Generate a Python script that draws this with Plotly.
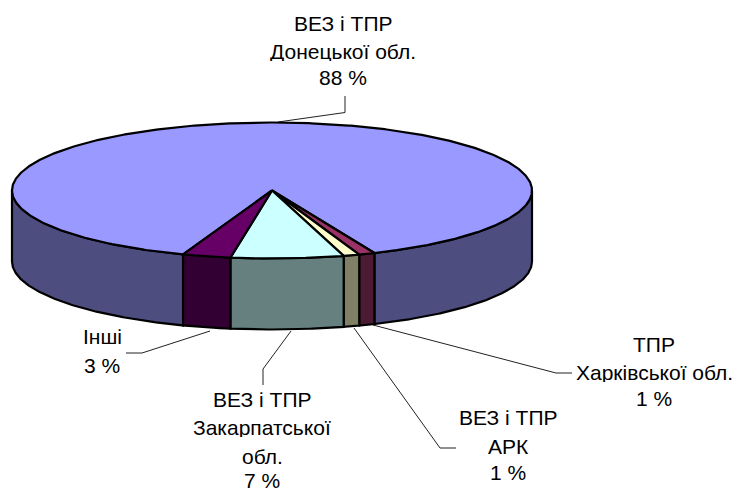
import numpy as np
import plotly.graph_objects as go

# Slice data, clockwise from the first slice
categories = [
    ["ВЕЗ і ТПР", "Донецької обл."],
    ["ТПР", "Харківської обл."],
    ["ВЕЗ і ТПР", "АРК"],
    ["ВЕЗ і ТПР", "Закарпатської", "обл."],
    ["Інші"],
]
shares = [88, 1, 1, 7, 3]
top_colors = ["#9999FF", "#993366", "#FFFFCC", "#CCFFFF", "#660066"]
side_colors = ["#4D4D80", "#4D1A33", "#808066", "#668080", "#330033"]

# Pie projection in pixel space
CX, CY, RX, RY, DEPTH = 272, 190.5, 260, 68, 71
START_ANGLE = 200

# Label layout: text centre x, y of each line, leader line vertices
label_x = [343, 654, 508, 262, 102]
label_y = [[23, 51, 77], [344, 372, 398], [417, 446, 472], [399, 427, 456, 480], [336, 365]]
leaders = [
    ([278, 345, 345], [122, 112.5, 96]),
    ([373, 556, 572], [325, 373, 373]),
    ([354, 440, 456], [328, 448, 448]),
    ([291, 263, 263], [331, 369, 385]),
    ([210, 142, 126], [331, 353, 353]),
]


def rim(angles_deg, drop=0.0):
    a = np.radians(angles_deg)
    return CX + RX * np.sin(a), CY - RY * np.cos(a) + drop


def arc(a0, a1):
    n = max(2, int(abs(a1 - a0) * 2) + 1)
    return np.linspace(a0, a1, n)


fig = go.Figure()


def face(xs, ys, color):
    fig.add_trace(go.Scatter(
        x=list(xs), y=list(ys), mode="lines", fill="toself", fillcolor=color,
        line=dict(color="black", width=2.2), hoverinfo="skip", showlegend=False,
    ))


# Leader lines sit underneath the pie
for xs, ys in leaders:
    fig.add_trace(go.Scatter(
        x=xs, y=ys, mode="lines", line=dict(color="#222222", width=1),
        hoverinfo="skip", showlegend=False,
    ))

# Slice angular extents from the shares
total = sum(shares)
edges = START_ANGLE + np.cumsum([0] + shares) * 360.0 / total

# Front wall: only the part of each slice facing the viewer (90..270 degrees)
for i, color in enumerate(side_colors):
    for shift in (0, 360):
        lo = max(edges[i], 90 + shift)
        hi = min(edges[i + 1], 270 + shift)
        if hi > lo:
            ang = arc(lo, hi)
            x_top, y_top = rim(ang)
            x_bot, y_bot = rim(ang[::-1], DEPTH)
            face(np.r_[x_top, x_bot, x_top[0]], np.r_[y_top, y_bot, y_top[0]], color)

# Top faces
for i, color in enumerate(top_colors):
    ang = arc(edges[i], edges[i + 1])
    x_rim, y_rim = rim(ang)
    face(np.r_[CX, x_rim, CX], np.r_[CY, y_rim, CY], color)

# Text labels, one annotation per line for exact leading
for cat, share, x, ys in zip(categories, shares, label_x, label_y):
    for line, y in zip(cat + [f"{share} %"], ys):
        fig.add_annotation(
            x=x, y=y, text=line, showarrow=False, xanchor="center", yanchor="middle",
            borderpad=0, height=20,
            font=dict(family="Liberation Sans, Arial, sans-serif", size=21, color="black"),
        )

fig.update_layout(
    width=736, height=490, autosize=False,
    margin=dict(l=0, r=0, t=0, b=0),
    paper_bgcolor="white", plot_bgcolor="white",
    xaxis=dict(range=[0, 736], visible=False, fixedrange=True),
    yaxis=dict(range=[490, 0], visible=False, fixedrange=True),
)

fig.write_html("out.html", config={"displayModeBar": False})
